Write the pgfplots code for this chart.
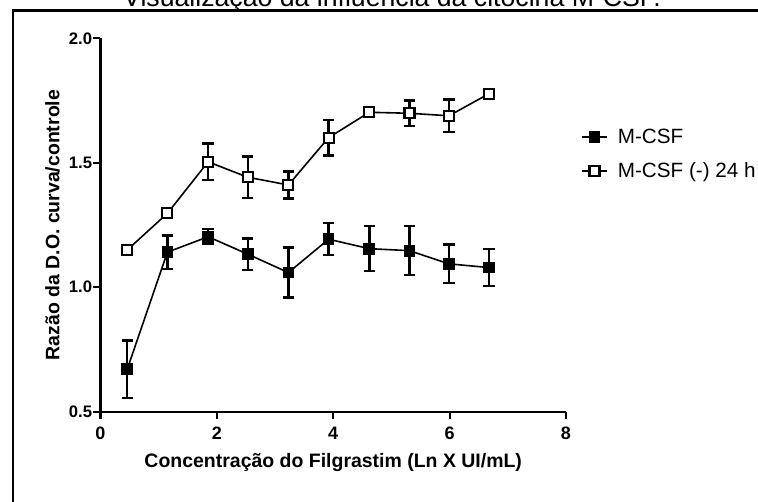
\documentclass[border=0pt]{standalone}
\usepackage{fontspec}
\setmainfont{Liberation Sans}
\usepackage{pgfplots}
\usepackage{pgfplotstable}
\pgfplotsset{compat=1.18}

% M-CSF: mean ratio and error at each concentration
\pgfplotstableread{
x     y      e
0.46  0.671  0.115
1.15  1.141  0.067
1.85  1.203  0.030
2.53  1.133  0.063
3.23  1.059  0.100
3.92  1.193  0.064
4.62  1.155  0.090
5.31  1.147  0.098
5.99  1.094  0.078
6.68  1.079  0.075
}\mcsf

% M-CSF removed after 24 h
\pgfplotstableread{
x     y      e
0.46  1.150  0.000
1.15  1.297  0.000
1.85  1.504  0.073
2.53  1.442  0.083
3.23  1.411  0.054
3.92  1.601  0.072
4.62  1.703  0.000
5.31  1.699  0.052
5.99  1.689  0.065
6.68  1.778  0.000
}\mcsfoff

\begin{document}
\begin{tikzpicture}[x=0.75pt,y=0.75pt]
\useasboundingbox (0,0) rectangle (758,-502);

% caption line, partly above the page
\node[anchor=base, font=\fontsize{20}{22}\selectfont] at (392,-6.5)
  {Visualização da influência da citocina M-CSF.};

% frame
\draw[line width=2pt] (13,-520) -- (13,-10.3) -- (780,-10.3);

\begin{axis}[
  at={(75.375pt,-308.775pt)}, anchor=south west,
  scale only axis, width=349.1pt, height=280pt,
  xmin=0, xmax=8, ymin=0.5, ymax=2.0,
  axis x line*=bottom, axis y line*=left,
  axis line style={line width=1.6pt, -},
  xtick={0,2,4,6,8}, ytick={0.5,1.0,1.5,2.0},
  tick align=outside, major tick length=5.25pt,
  tick style={line width=1.6pt, black},
  /pgf/number format/assume math mode=true,
  yticklabel style={/pgf/number format/.cd, fixed, fixed zerofill, precision=1,
    /tikz/.cd, font=\fontsize{12.5}{14}\selectfont\bfseries, xshift=2.5pt},
  xticklabel style={font=\fontsize{13.5}{15}\selectfont\bfseries, yshift=-2.5pt},
  xlabel={Concentração do Filgrastim (Ln X UI/mL)},
  ylabel={Razão da D.O. curva/controle},
  label style={font=\fontsize{14.6}{16}\selectfont\bfseries},
  xlabel style={at={(axis description cs:0.5,0)}, anchor=base, yshift=-42.2pt},
  ylabel style={at={(axis description cs:0,0.5)}, anchor=center, yshift=36pt},
  clip=false,
  legend cell align=left,
  legend style={draw=none, fill=none, at={(1.032,0.69)}, anchor=west,
    font=\fontsize{15.5}{17}\selectfont, inner sep=0pt, row sep=11pt,
    nodes={inner sep=1pt},
    /tikz/every odd column/.style={column sep=6.5pt}},
  legend image code/.code={
    \draw[mark repeat=2, mark phase=2, line width=1.3pt, #1]
      plot coordinates {(0pt,0pt) (9.4pt,0pt) (18.75pt,0pt)};
  },
]
\addplot[black, line width=1.2pt, mark=square*, mark size=3.9pt,
  mark options={solid, fill=black, line width=1pt},
  error bars/.cd, y dir=both, y explicit,
  error bar style={line width=1.8pt},
  error mark options={rotate=90, line width=1.8pt, mark size=4.3pt}]
  table[x=x, y=y, y error=e] {\mcsf};
\addlegendentry{M-CSF}

\addplot[black, line width=1.2pt, mark=square*, mark size=3.75pt,
  mark options={solid, fill=white, line width=1.6pt},
  error bars/.cd, y dir=both, y explicit,
  error bar style={line width=1.8pt},
  error mark options={rotate=90, line width=1.8pt, mark size=4.3pt}]
  table[x=x, y=y, y error=e] {\mcsfoff};
\addlegendentry{M-CSF (-) 24 h}
\end{axis}
\end{tikzpicture}
\end{document}
